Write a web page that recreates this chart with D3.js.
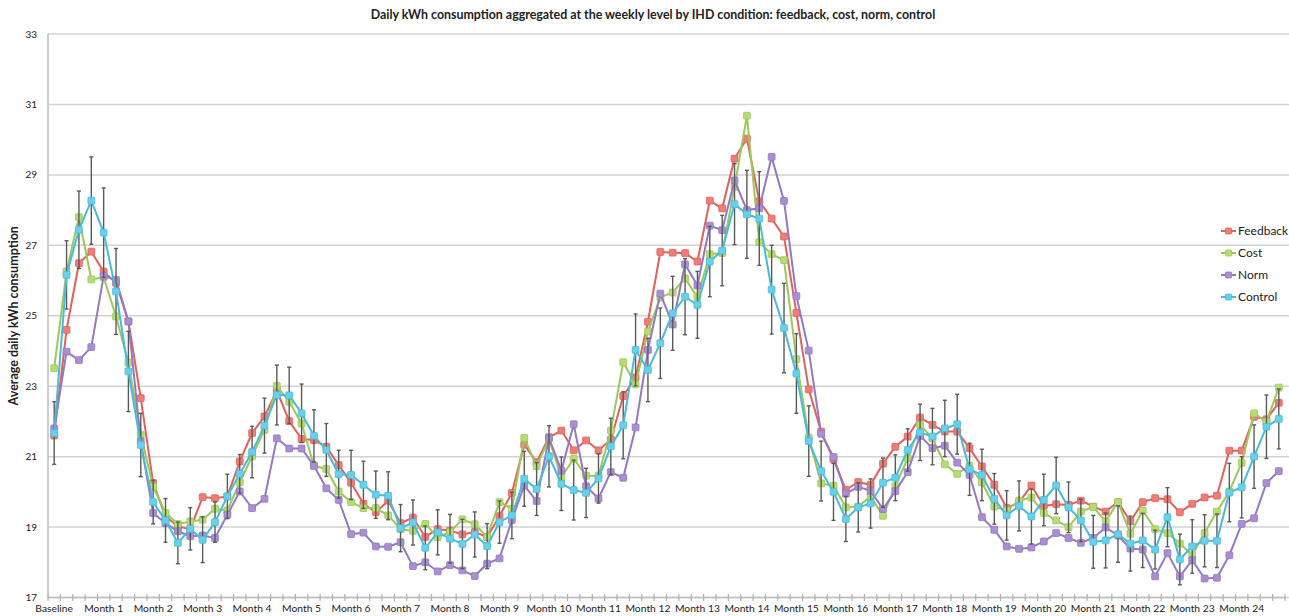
<!DOCTYPE html>
<html>
<head>
<meta charset="utf-8">
<script src="https://cdn.jsdelivr.net/npm/d3@7/dist/d3.min.js"></script>
<style>
body { margin: 0; background: #fff; }
text { font-family: Lato, "Open Sans", sans-serif; fill: #222; }
</style>
</head>
<body>
<div id="chart"></div>
<script>
// x categories: 100 weekly points, a label on every 4th
const monthLabels = ['Baseline'].concat(d3.range(1, 25).map(m => 'Month ' + m));
const yTicks = [17, 19, 21, 23, 25, 27, 29, 31, 33];

const feedback = [21.60,24.60,26.49,26.82,26.25,25.93,24.84,22.66,20.25,19.30,19.02,18.94,19.85,19.82,19.87,20.86,21.67,22.14,22.87,22.01,
  21.50,21.47,21.28,20.76,20.26,19.66,19.42,19.75,19.11,19.27,18.72,18.94,18.90,18.79,18.86,18.72,19.31,19.97,21.34,20.84,
  21.55,21.74,21.18,21.46,21.18,21.48,22.72,23.25,24.83,26.81,26.79,26.78,26.54,28.27,28.05,29.46,30.03,28.25,27.76,27.25,
  25.08,22.91,21.71,20.92,20.06,20.28,20.20,20.80,21.28,21.57,22.11,21.90,21.71,21.71,21.24,20.72,20.20,19.54,19.70,20.18,
  19.60,19.65,19.63,19.75,19.58,19.44,19.71,19.16,19.71,19.82,19.79,19.42,19.66,19.84,19.89,21.17,21.17,22.13,22.06,22.53];
const cost = [23.51,26.26,27.80,26.03,26.09,24.98,23.67,21.62,20.15,19.40,19.09,19.16,19.21,19.52,19.47,20.27,21.01,21.76,23.01,22.56,
  21.94,20.74,20.65,20.01,19.71,19.54,19.54,19.33,18.94,18.89,19.09,18.71,18.86,19.22,19.08,18.72,19.71,19.52,21.53,20.73,
  21.50,20.42,20.94,20.46,20.46,21.74,23.68,23.05,24.55,25.52,25.66,26.06,25.53,26.75,26.78,28.66,30.68,27.09,26.75,26.58,
  23.77,21.54,20.24,20.17,19.56,19.58,19.87,19.32,20.16,20.95,21.90,21.52,20.78,20.51,20.74,20.27,19.58,19.47,19.75,19.84,
  19.40,19.19,19.00,19.44,19.57,19.16,19.71,18.81,19.47,18.94,18.83,18.53,18.20,18.83,19.44,20.01,20.83,22.23,21.99,22.96];
const norm = [21.80,23.98,23.74,24.11,26.13,26.02,24.84,21.43,19.40,19.11,18.88,18.74,18.76,18.69,19.35,20.01,19.54,19.80,21.52,21.23,
  21.23,20.74,20.10,19.77,18.80,18.84,18.45,18.44,18.57,17.89,18.00,17.74,17.92,17.77,17.61,17.96,18.11,19.20,20.18,19.74,
  21.53,20.60,21.92,20.16,19.81,20.56,20.40,21.83,24.03,25.63,24.75,26.46,25.86,27.56,27.43,28.84,28.00,28.05,29.51,28.26,
  25.56,24.01,21.65,20.99,19.95,20.14,20.03,19.51,20.02,20.56,21.59,21.24,21.31,20.83,20.48,19.28,18.92,18.45,18.38,18.42,
  18.59,18.83,18.69,18.55,18.69,18.99,18.76,18.39,18.36,17.60,18.26,17.60,18.06,17.54,17.56,18.20,19.09,19.25,20.25,20.59];
const control = [21.67,26.16,27.44,28.27,27.36,25.69,23.42,21.33,19.71,19.19,18.55,18.95,18.64,19.14,19.87,20.51,21.13,21.88,22.75,22.74,
  22.23,21.59,21.19,20.50,20.48,20.20,19.92,19.89,18.97,19.13,18.41,18.85,18.67,18.52,18.79,18.46,19.14,19.33,20.37,20.08,
  21.01,20.23,20.05,19.97,20.38,21.29,21.89,24.03,23.46,24.22,25.07,25.54,25.31,26.54,26.85,28.17,27.88,27.76,25.74,24.65,
  23.36,21.44,20.59,20.00,19.23,19.56,19.67,20.26,20.40,21.19,21.69,21.57,21.80,21.92,20.64,20.48,19.80,19.33,19.60,19.30,
  19.77,20.18,19.56,19.19,18.58,18.62,18.80,18.53,18.62,18.36,19.28,18.08,18.45,18.61,18.61,19.98,20.13,21.00,21.85,22.07];
// error bar half-widths for the control series
const controlErr = [0.89,0.97,1.10,1.24,1.27,1.22,1.14,0.90,0.62,0.62,0.59,0.60,0.65,0.57,0.63,0.55,0.73,0.78,0.85,0.80,
  0.83,0.74,0.75,0.68,0.70,0.67,0.67,0.68,0.67,0.64,0.62,0.64,0.69,0.70,0.64,0.64,0.60,0.66,0.78,0.75,
  0.87,0.76,0.85,0.70,0.70,0.80,0.95,1.02,0.90,1.00,1.05,1.08,0.95,1.00,1.00,1.15,1.25,1.33,1.26,1.27,
  1.13,1.00,0.85,0.81,0.64,0.70,0.70,0.70,0.65,0.60,0.80,0.80,0.80,0.85,0.74,0.73,0.72,0.70,0.71,0.78,
  0.73,0.80,0.72,0.60,0.75,0.78,0.80,0.78,0.77,0.55,0.84,0.72,0.76,0.74,0.76,0.83,0.87,0.90,0.90,0.85];

const series = [
  {name: 'Feedback', values: feedback, line: '#e0615b', fill: '#ef7d77'},
  {name: 'Cost', values: cost, line: '#9cc85b', fill: '#b6dc72'},
  {name: 'Norm', values: norm, line: '#9479c0', fill: '#a98fd2'},
  {name: 'Control', values: control, line: '#47bbd8', fill: '#68d0ea'}
];

var width = 1289, height = 616;
const pLeft = 48, pRight = 1285, pTop = 34, pBottom = 597.5;

const svg = d3.select('#chart').append('svg').attr('width', width).attr('height', height);

const x = d3.scaleBand().domain(d3.range(feedback.length)).range([pLeft, pRight]);
const bw = x.bandwidth();
const cx = i => x(i) + bw / 2;
const y = d3.scaleLinear().domain([17, 33]).range([pBottom, pTop]);

// gridlines
svg.append('g').selectAll('line').data(yTicks).enter().append('line')
  .attr('x1', pLeft).attr('x2', width).attr('y1', d => y(d)).attr('y2', d => y(d))
  .attr('stroke', '#d2d2d2').attr('stroke-width', 1.5);

// axis lines
svg.append('line').attr('x1', pLeft).attr('x2', pLeft).attr('y1', pTop).attr('y2', pBottom)
  .attr('stroke', '#bdbdbd').attr('stroke-width', 1.5);
svg.append('line').attr('x1', pLeft).attr('x2', pRight).attr('y1', pBottom).attr('y2', pBottom)
  .attr('stroke', '#bdbdbd').attr('stroke-width', 1.5);

// y labels
svg.append('g').selectAll('text').data(yTicks).enter().append('text')
  .attr('x', 37).attr('y', d => y(d)).attr('dy', '0.35em')
  .attr('text-anchor', 'end').style('font-size', '10px').text(d => d);

// x tick marks at category boundaries
svg.append('g').selectAll('line').data(d3.range(feedback.length + 1)).enter().append('line')
  .attr('x1', d => pLeft + d * bw).attr('x2', d => pLeft + d * bw)
  .attr('y1', pBottom - 3.5).attr('y2', pBottom + 3.5)
  .attr('stroke', '#b0b0b0').attr('stroke-width', 1.2);

// x labels every 4 weeks
svg.append('g').selectAll('text').data(monthLabels).enter().append('text')
  .attr('x', (d, i) => cx(i * 4)).attr('y', 612)
  .attr('text-anchor', 'middle').style('font-size', '10.3px').text(d => d);

// title + y axis title
svg.append('text').attr('x', 653).attr('y', 19).attr('text-anchor', 'middle')
  .style('font-size', '12.4px').style('font-weight', 'bold')
  .text('Daily kWh consumption aggregated at the weekly level by IHD condition: feedback, cost, norm, control');
svg.append('text').attr('transform', 'translate(18,' + ((pTop + pBottom) / 2) + ') rotate(-90)')
  .attr('text-anchor', 'middle').style('font-size', '12.5px').style('font-weight', 'bold')
  .text('Average daily kWh consumption');

const line = d3.line().x((d, i) => cx(i)).y(d => y(d));

series.forEach(s => {
  const g = svg.append('g');
  if (s.name === 'Control') {
    const eb = g.append('g').attr('stroke', '#5a5a5a').attr('stroke-width', 1.4);
    s.values.forEach((v, i) => {
      const e = controlErr[i];
      eb.append('line').attr('x1', cx(i)).attr('x2', cx(i)).attr('y1', y(v - e)).attr('y2', y(v + e));
      eb.append('line').attr('x1', cx(i) - 2).attr('x2', cx(i) + 2).attr('y1', y(v - e)).attr('y2', y(v - e));
      eb.append('line').attr('x1', cx(i) - 2).attr('x2', cx(i) + 2).attr('y1', y(v + e)).attr('y2', y(v + e));
    });
  }
  g.append('path').datum(s.values).attr('d', line)
    .attr('fill', 'none').attr('stroke', s.line).attr('stroke-width', 2);
  g.selectAll('rect').data(s.values).enter().append('rect')
    .attr('x', (d, i) => cx(i) - 3.4).attr('y', d => y(d) - 3.4)
    .attr('width', 6.8).attr('height', 6.8).attr('rx', 0.8)
    .attr('fill', s.fill).attr('stroke', s.line).attr('stroke-width', 0.8);
});

// legend
const lg = svg.append('g');
series.forEach((s, k) => {
  const ly = 231 + k * 22;
  lg.append('line').attr('x1', 1221).attr('x2', 1236).attr('y1', ly).attr('y2', ly)
    .attr('stroke', s.line).attr('stroke-width', 2);
  lg.append('rect').attr('x', 1225.5).attr('y', ly - 3).attr('width', 6).attr('height', 6).attr('rx', 0.8)
    .attr('fill', s.fill).attr('stroke', s.line).attr('stroke-width', 0.8);
  lg.append('text').attr('x', 1238).attr('y', ly).attr('dy', '0.35em')
    .style('font-size', '12px').text(s.name);
});
</script>
</body>
</html>
